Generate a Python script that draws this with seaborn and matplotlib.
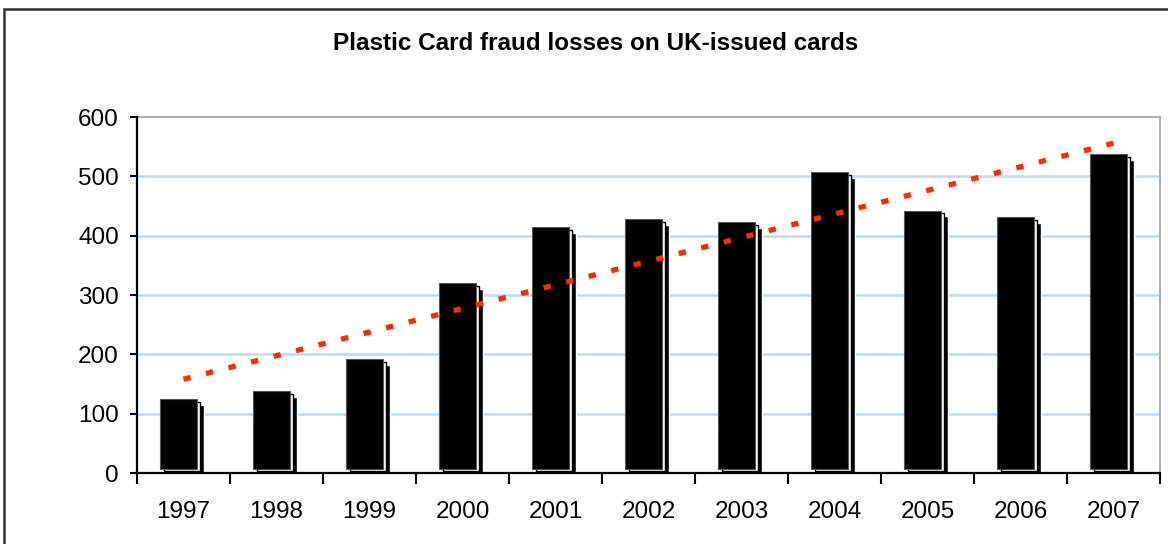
# Plastic card fraud losses on UK-issued cards, bars with an Excel style shadow and a linear trend

import numpy as np
import pandas as pd
import matplotlib
matplotlib.use("Agg")
import matplotlib.pyplot as plt
import seaborn as sns
from matplotlib.patches import Rectangle

# data (GBP millions)
years = ["1997", "1998", "1999", "2000", "2001", "2002", "2003", "2004", "2005", "2006", "2007"]
losses = [122.0, 135.0, 188.4, 317.0, 411.5, 424.6, 420.4, 504.8, 439.4, 428.0, 535.2]
y_ticks = [0, 100, 200, 300, 400, 500, 600]

df = pd.DataFrame({"Year": years, "Losses": losses})
df["pos"] = np.arange(len(df))

sns.set_style("white")
plt.rcParams["font.family"] = ["Liberation Sans", "DejaVu Sans"]
plt.rcParams["text.color"] = "black"
plt.rcParams["xtick.color"] = "black"
plt.rcParams["ytick.color"] = "black"

fig = plt.figure(figsize=(11.68, 5.44), dpi=100)
ax = fig.add_axes([137 / 1168, 1 - 473 / 544, (1160 - 137) / 1168, (473 - 117) / 544])

w = 0.39
vals = df["Losses"].to_numpy()

# shadow bar behind, then white step, then the front bar
ax.bar(df["pos"] + 0.03, vals - 7, width=w, bottom=0, color="black", zorder=1)
ax.bar(df["pos"] - 0.02, vals - 5, width=w, bottom=3, color="white",
       edgecolor="black", linewidth=1.0, zorder=2)
sns.barplot(data=df, x="Year", y="Losses", color="black", width=w,
            saturation=1, edgecolor="#555555", linewidth=0.8, ax=ax, zorder=3)
for p in ax.patches[-len(df):]:
    p.set_x(p.get_x() - 0.055)
    p.set_y(6)
    p.set_height(p.get_height() - 3)

# linear trend line
sns.regplot(data=df, x="pos", y="Losses", scatter=False, ci=None, ax=ax,
            line_kws=dict(color="#ff2a00", linewidth=3.8, dashes=(1.4, 3.0),
                          dash_capstyle="butt", zorder=4))

ax.set_xlim(-0.5, len(years) - 0.5)
ax.set_ylim(0, 600)
ax.set_yticks(y_ticks)
ax.set_xticks(np.arange(len(years)))
ax.set_xticklabels(years)
ax.set_xticks(np.arange(len(years) + 1) - 0.5, minor=True)
ax.set_xlabel("")
ax.set_ylabel("")

for y in y_ticks[1:-1]:
    ax.axhline(y, color="#b8dbf7", linewidth=1.8, zorder=0)

ax.tick_params(axis="x", which="major", bottom=True, length=0, pad=20, labelsize=17.5,
               labelcolor="black")
ax.tick_params(axis="x", which="minor", bottom=True, length=8, width=1.5, color="black",
               direction="out")
ax.tick_params(axis="y", left=True, length=5, width=1.5, color="black", direction="out",
               pad=8, labelsize=17.5, labelcolor="black")

for s in ["left", "bottom"]:
    ax.spines[s].set_color("black")
    ax.spines[s].set_linewidth(1.6)
for s in ["top", "right"]:
    ax.spines[s].set_visible(True)
    ax.spines[s].set_color("#b0b0b0")
    ax.spines[s].set_linewidth(1.5)
ax.spines["left"].set_zorder(5)
ax.spines["bottom"].set_zorder(5)

fig.text(596 / 1168, 1 - 43 / 544, "Plastic Card fraud losses on UK-issued cards",
         ha="center", va="center", fontsize=17.5, fontweight="bold", color="black")

# outer chart frame, cut by the image edge at right and bottom
fig.patches.append(Rectangle((4 / 1168, -0.1), 1.1, 1 - 9 / 544 + 0.1,
                             transform=fig.transFigure, fill=False,
                             edgecolor="#333333", linewidth=1.8))

fig.savefig("out.png", dpi=100)
